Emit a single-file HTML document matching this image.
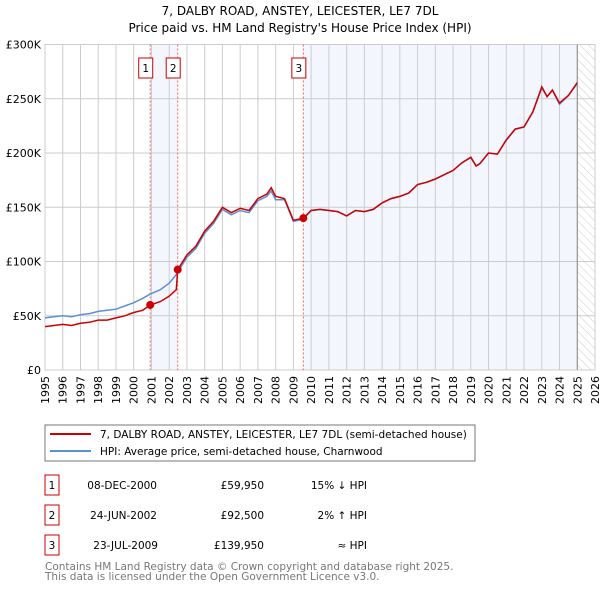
<!DOCTYPE html>
<html><head><meta charset="utf-8"><style>
body{margin:0;background:#fff;font-family:"DejaVu Sans","Liberation Sans",sans-serif;}
svg text{font-family:"DejaVu Sans","Liberation Sans",sans-serif;}
</style></head><body>
<svg id="chart" width="600" height="590" xmlns="http://www.w3.org/2000/svg">
<defs><pattern id="hatch" width="6" height="6" patternUnits="userSpaceOnUse" patternTransform="rotate(-45)"><line x1="0" y1="0" x2="0" y2="6" stroke="#ccc" stroke-width="1"/></pattern></defs>
<text x="300" y="15" text-anchor="middle" font-size="12">7, DALBY ROAD, ANSTEY, LEICESTER, LE7 7DL</text>
<text x="300" y="32" text-anchor="middle" font-size="12">Price paid vs. HM Land Registry's House Price Index (HPI)</text>
<g id="plot"></g>
<rect x="45" y="425" width="430" height="36" fill="#fff" stroke="#777"/>
<line x1="50" y1="434" x2="91" y2="434" stroke="#cc0000" stroke-width="2"/>
<text x="100" y="438" font-size="10.5">7, DALBY ROAD, ANSTEY, LEICESTER, LE7 7DL (semi-detached house)</text>
<line x1="50" y1="451" x2="91" y2="451" stroke="#5b8fd4" stroke-width="2"/>
<text x="100" y="455" font-size="10.5">HPI: Average price, semi-detached house, Charnwood</text>
<g font-size="10.5">
<rect x="45" y="475" width="14" height="20" fill="#fff" stroke="#cc0000"/><text x="52" y="489" text-anchor="middle">1</text>
<text x="157" y="489" text-anchor="end">08-DEC-2000</text>
<text x="264" y="489" text-anchor="end">£59,950</text>
<text x="367" y="489" text-anchor="end">15% ↓ HPI</text>
<rect x="45" y="505" width="14" height="20" fill="#fff" stroke="#cc0000"/><text x="52" y="519" text-anchor="middle">2</text>
<text x="157" y="519" text-anchor="end">24-JUN-2002</text>
<text x="264" y="519" text-anchor="end">£92,500</text>
<text x="367" y="519" text-anchor="end">2% ↑ HPI</text>
<rect x="45" y="535" width="14" height="20" fill="#fff" stroke="#cc0000"/><text x="52" y="549" text-anchor="middle">3</text>
<text x="158" y="549" text-anchor="end">23-JUL-2009</text>
<text x="264" y="549" text-anchor="end">£139,950</text>
<text x="367" y="549" text-anchor="end">≈ HPI</text>
</g>
<text x="45" y="570" font-size="10.5" fill="#777">Contains HM Land Registry data © Crown copyright and database right 2025.</text>
<text x="45" y="580" font-size="10.5" fill="#777">This data is licensed under the Open Government Licence v3.0.</text>
</svg>
<script>
const years=[1995,1995.5,1996,1996.5,1997,1997.5,1998,1998.5,1999,1999.5,2000,2000.5,2000.93,2001.5,2002,2002.4,2002.48,2003,2003.5,2004,2004.5,2005,2005.5,2006,2006.5,2007,2007.5,2007.75,2008,2008.5,2009,2009.56,2010,2010.5,2011,2011.5,2012,2012.5,2013,2013.5,2014,2014.5,2015,2015.5,2016,2016.5,2017,2017.5,2018,2018.5,2019,2019.3,2019.5,2020,2020.5,2021,2021.5,2022,2022.5,2023,2023.3,2023.6,2024,2024.5,2025];
const hpi=[48,49,50,49,51,52,54,55,56,59,62,66,70,74,80,88,90,104,112,126,135,148,143,147,145,156,160,165,157,157,137,139,147,148,147,146,142,147,146,148,154,158,160,163,171,173,176,180,184,191,196,188,190,200,199,212,222,224,238,260,252,258,245,253,264];
const price=[40,41,42,41,43,44,46,46,48,50,53,55,59.95,63,68,74,92.5,106,114,128,137,150,145,149,147,158,162,168,160,158,138,139.95,147,148,147,146,142,147,146,148,154,158,160,163,171,173,176,180,184,191,196,188,190,200,199,212,222,224,238,261,252,258,246,253,265];
const sales=[2000.93,2002.48,2009.56];
const salePrices=[59.95,92.5,139.95];
const yTicks=[0,50,100,150,200,250,300];
const yLabels=["£0","£50K","£100K","£150K","£200K","£250K","£300K"];
const xTicks=[1995,1996,1997,1998,1999,2000,2001,2002,2003,2004,2005,2006,2007,2008,2009,2010,2011,2012,2013,2014,2015,2016,2017,2018,2019,2020,2021,2022,2023,2024,2025,2026];
const L=45,R=595,T=44.5,B=370;
const X=v=>L+(v-1995)*(R-L)/31;
const Y=v=>B-v*(B-T)/300;
const NS="http://www.w3.org/2000/svg";
const g=document.getElementById('plot');
function mk(t,a){const e=document.createElementNS(NS,t);for(const k in a)e.setAttribute(k,a[k]);g.appendChild(e);return e;}
let e;
e=mk('rect',{x:X(sales[0]),y:T,width:X(sales[1])-X(sales[0]),height:B-T,fill:'#eef3fc',opacity:0.7});


e=mk('rect',{x:X(sales[2]),y:T,width:X(2025)-X(sales[2]),height:B-T,fill:'#eef3fc',opacity:0.7});


e=mk('rect',{x:X(2025),y:T,width:R-X(2025),height:B-T,fill:'url(#hatch)'});


xTicks.forEach(t=>{e=mk('line',{x1:X(t),x2:X(t),y1:T,y2:B,stroke:'#ccc'});


e=mk('text',{x:0,y:0,'font-size':11,'text-anchor':'end',transform:`translate(${X(t)+4},${B+6}) rotate(-90)`});e.textContent=t;

});
yTicks.forEach((t,i)=>{e=mk('line',{x1:L,x2:R,y1:Y(t),y2:Y(t),stroke:'#ccc'});


e=mk('text',{x:L-4,y:Y(t)+4,'font-size':11,'text-anchor':'end'});e.textContent=yLabels[i];

});
e=mk('rect',{x:L,y:T,width:R-L,height:B-T,fill:'none',stroke:'#ccc'});


e=mk('line',{x1:X(2025),x2:X(2025),y1:T,y2:B,stroke:'#888'});


sales.forEach((s,i)=>{e=mk('line',{x1:X(s),x2:X(s),y1:T,y2:B,stroke:'#f06060','stroke-dasharray':'2,2'});


e=mk('rect',{x:X(s)-11.5,y:58,width:14,height:20,fill:'#fff',stroke:'#cc0000'});


e=mk('text',{x:X(s)-4.5,y:72,'font-size':10.5,'text-anchor':'middle'});e.textContent=i+1;

});
const pts=a=>a.map((v,i)=>X(years[i]).toFixed(1)+','+Y(v).toFixed(1)).join(' ');
e=mk('polyline',{points:pts(hpi),fill:'none',stroke:'#5b8fd4','stroke-width':1.5});


e=mk('polyline',{points:pts(price),fill:'none',stroke:'#cc0000','stroke-width':1.5});


sales.forEach((s,i)=>{e=mk('circle',{cx:X(s),cy:Y(salePrices[i]),r:4,fill:'#cc0000'});

});
</script>
</body></html>
